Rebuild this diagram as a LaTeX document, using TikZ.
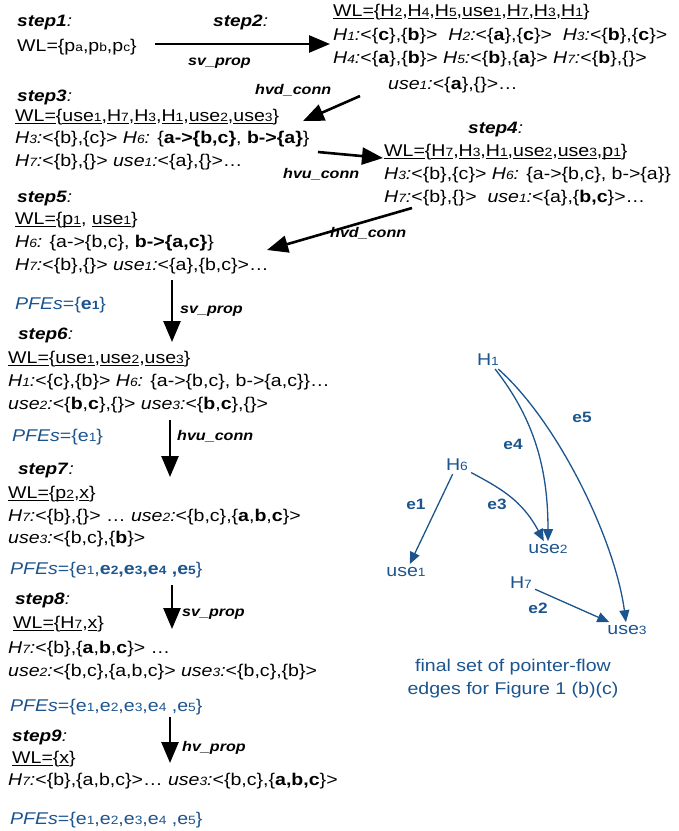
\documentclass[tikz,border=0pt]{standalone}
\usepackage{fontspec}
\setmainfont{Liberation Sans}[FakeStretch=1.15]
\usetikzlibrary{arrows.meta}
\definecolor{pfe}{RGB}{28,84,142}
\newcommand{\sd}[1]{{\fontsize{12}{12}\selectfont #1}}
\newcommand{\ul}[1]{\setbox0\hbox{#1}\rlap{\rule[-2.6pt]{\wd0}{0.9pt}}\box0}
\newcommand{\lab}[2]{\textit{#1\sd{#2}:}}
\newcommand{\stp}[1]{\textbf{\textit{#1}}\textit{:}}
\newcommand{\B}[1]{\textbf{#1}}
\tikzset{
  basetxt/.style={inner sep=0pt, anchor=base west, font=\fontsize{17}{22}\selectfont},
  steplab/.style={basetxt, font=\fontsize{16.5}{20}\selectfont},
  arrlab/.style={basetxt, font=\fontsize{14}{18}\selectfont\bfseries\itshape},
  pfes/.style={basetxt, text=pfe},
  bigarrow/.style={line width=2.6pt, -{Triangle[length=21pt,width=17pt]}},
  garrow/.style={pfe, line width=1.3pt, -{Triangle[length=12pt,width=10pt]}},
  gnode/.style={inner sep=3pt, text=pfe, font=\fontsize{17}{23}\selectfont},
  glab/.style={inner sep=0pt, text=pfe, font=\fontsize{15}{18}\selectfont\bfseries},
}
\begin{document}
\begin{tikzpicture}[x=1pt,y=-1pt]
\path[use as bounding box] (0,0) rectangle (679,831);
% step1 / step2
\node[steplab] (st1) at (17,26) {\stp{step1}};
\node[basetxt] (wl1) at (17,51) {WL=\{p\sd{a},p\sd{b},p\sd{c}\}};
\node[steplab] (st2) at (213,26) {\stp{step2}};
\node[arrlab] (l1) at (188,65) {sv\_prop};
\node[basetxt] (r1) at (333,16) {\ul{WL=}\{\ul{H\sd2},\ul{H\sd4},\ul{H\sd5},\ul{use\sd1},\ul{H\sd7},\ul{H\sd3},\ul{H\sd1}\}};
\node[basetxt] (r2) at (333,40) {\lab{H}{1}<\{\B{c}\},\{\B{b}\}>\ \ \lab{H}{2}<\{\B{a}\},\{\B{c}\}>\ \ \lab{H}{3}<\{\B{b}\},\{\B{c}\}>};
\node[basetxt] (r3) at (333,63) {\lab{H}{4}<\{\B{a}\},\{\B{b}\}> \lab{H}{5}<\{\B{b}\},\{\B{a}\}> \lab{H}{7}<\{\B{b}\},\{\}>};
\node[basetxt] (r4) at (388,89) {\lab{use}{1}<\{\B{a}\},\{\}>\ldots};
\node[arrlab] (l2) at (255,94) {hvd\_conn};
% step3
\node[steplab] (st3) at (17,101) {\stp{step3}};
\node[basetxt] (s3a) at (15,121) {\ul{WL=} \{\ul{use\sd1},\ul{H\sd7},\ul{H\sd3},\ul{H\sd1},\ul{use\sd2},\ul{use\sd3}\}};
\node[basetxt] (s3b) at (15,143) {\lab{H}{3}<\{b\},\{c\}> \lab{H}{6} \{\B{a->\{b,c\}}, \B{b->\{a\}}\}};
\node[basetxt] (s3c) at (15,166) {\lab{H}{7}<\{b\},\{\}> \lab{use}{1}<\{a\},\{\}>\ldots};
\node[arrlab] (l3) at (283,178) {hvu\_conn};
% step4
\node[steplab] (st4) at (468,133) {\stp{step4}};
\node[basetxt] (s4a) at (384,156) {\ul{WL=}\{\ul{H\sd7},\ul{H\sd3},\ul{H\sd1},\ul{use\sd2},\ul{use\sd3},\ul{p\sd1}\}};
\node[basetxt] (s4b) at (384,179) {\lab{H}{3}<\{b\},\{c\}> \lab{H}{6} \{a->\{b,c\}, b->\{a\}\}};
\node[basetxt] (s4c) at (384,202) {\lab{H}{7}<\{b\},\{\}>\ \ \lab{use}{1}<\{a\},\{\B{b,c}\}>\ldots};
\node[arrlab] (l4) at (330,237) {hvd\_conn};
% step5
\node[steplab] (st5) at (17,202) {\stp{step5}};
\node[basetxt] (s5a) at (15,224) {\ul{WL=}\{\ul{p\sd1}, \ul{use\sd1}\}};
\node[basetxt] (s5b) at (15,247) {\lab{H}{6} \{a->\{b,c\}, \B{b->\{a,c\}}\}};
\node[basetxt] (s5c) at (15,270) {\lab{H}{7}<\{b\},\{\}> \lab{use}{1}<\{a\},\{b,c\}>\ldots};
\node[pfes] (p1) at (15,309) {\textit{PFEs}=\{\B{e\sd1}\}};
\node[arrlab] (l5) at (180,313) {sv\_prop};
% step6
\node[steplab] (st6) at (18,339) {\stp{step6}};
\node[basetxt] (s6a) at (8,363) {\ul{WL=}\{\ul{use\sd1},\ul{use\sd2},\ul{use\sd3}\}};
\node[basetxt] (s6b) at (8,386) {\lab{H}{1}<\{c\},\{b\}> \lab{H}{6} \{a->\{b,c\}, b->\{a,c\}\}\ldots};
\node[basetxt] (s6c) at (8,409) {\lab{use}{2}<\{\B{b},\B{c}\},\{\}> \lab{use}{3}<\{\B{b},\B{c}\},\{\}>};
\node[pfes] (p2) at (12,441) {\textit{PFEs}=\{e\sd1\}};
\node[arrlab] (l6) at (177,440) {hvu\_conn};
% step7
\node[steplab] (st7) at (18,474) {\stp{step7}};
\node[basetxt] (s7a) at (8,498) {\ul{WL=}\{\ul{p\sd2},\ul{x}\}};
\node[basetxt] (s7b) at (8,521) {\lab{H}{7}<\{b\},\{\}> \ldots\ \lab{use}{2}<\{b,c\},\{\B{a},\B{b},\B{c}\}>};
\node[basetxt] (s7c) at (8,543) {\lab{use}{3}<\{b,c\},\{\B{b}\}>};
\node[pfes] (p3) at (10,574) {\textit{PFEs}=\{e\sd1,\B{e\sd2,e\sd3,e\sd4 ,e\sd5}\}};
\node[arrlab] (l7) at (182,616) {sv\_prop};
% step8
\node[steplab] (st8) at (15,604) {\stp{step8}};
\node[basetxt] (s8a) at (13,628) {\ul{WL=}\{\ul{H\sd7},\ul{x}\}};
\node[basetxt] (s8b) at (8,653) {\lab{H}{7}<\{b\},\{\B{a},\B{b},\B{c}\}> \ldots};
\node[basetxt] (s8c) at (8,676) {\lab{use}{2}<\{b,c\},\{a,b,c\}> \lab{use}{3}<\{b,c\},\{b\}>};
\node[pfes] (p4) at (10,711) {\textit{PFEs}=\{e\sd1,e\sd2,e\sd3,e\sd4 ,e\sd5\}};
\node[arrlab] (l8) at (182,751) {hv\_prop};
% step9
\node[steplab] (st9) at (12,741) {\stp{step9}};
\node[basetxt] (s9a) at (12,763) {\ul{WL=}\{\ul{x}\}};
\node[basetxt] (s9b) at (8,785) {\lab{H}{7}<\{b\},\{a,b,c\}>\ldots\ \lab{use}{3}<\{b,c\},\{\B{a,b,c}\}>};
\node[pfes] (p5) at (10,824) {\textit{PFEs}=\{e\sd1,e\sd2,e\sd3,e\sd4 ,e\sd5\}};
% big arrows
\coordinate (a1s) at (155,44); \coordinate (a1e) at (330,44);
\coordinate (a2s) at (360,96); \coordinate (a2e) at (303,121);
\coordinate (a3s) at (318,152); \coordinate (a3e) at (383,158);
\coordinate (a4s) at (412,208); \coordinate (a4e) at (267,250);
\coordinate (a5s) at (172,280); \coordinate (a5e) at (172,342);
\coordinate (a6s) at (170,420); \coordinate (a6e) at (170,477);
\coordinate (a7s) at (172,585); \coordinate (a7e) at (172,629);
\coordinate (a8s) at (170,717); \coordinate (a8e) at (170,763);
\foreach \i in {1,...,8} \draw[bigarrow] (a\i s) -- (a\i e);
% graph
\node[gnode] (H1) at (488,360) {H\sd1};
\node[gnode] (H6) at (457,465) {H\sd6};
\node[gnode] (use2) at (548,549) {use\sd2};
\node[gnode] (use1) at (406,572) {use\sd1};
\node[gnode] (H7) at (521,583) {H\sd7};
\node[gnode] (use3) at (627,630) {use\sd3};
\draw[garrow] (H6) -- (use1);
\draw[garrow] (H6) .. controls (500,488) and (522,500) .. (use2);
\draw[garrow] (H1) .. controls (535,420) and (548,470) .. (use2);
\draw[garrow] (H1) .. controls (558,422) and (615,540) .. (use3);
\draw[garrow] (H7) -- (use3);
\node[glab] (e5) at (582,417) {e5};
\node[glab] (e4) at (513,444) {e4};
\node[glab] (e1) at (416,504) {e1};
\node[glab] (e3) at (497,504) {e3};
\node[glab] (e2) at (538,608) {e2};
\node[gnode, align=center] (cap) at (513,679) {final set of pointer-flow\\edges for Figure 1 (b)(c)};
\end{tikzpicture}
\end{document}
